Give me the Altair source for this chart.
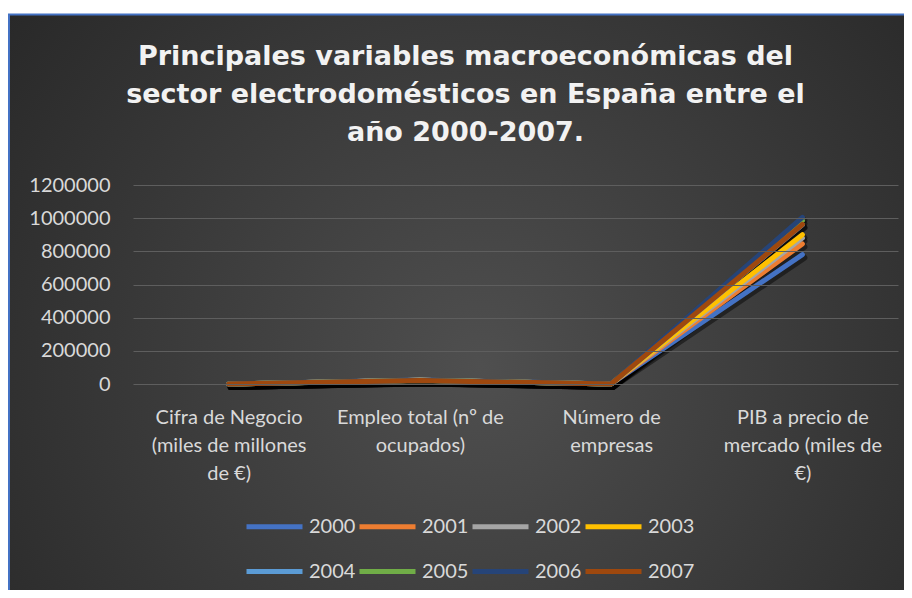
import altair as alt
import pandas as pd

years = ["2000", "2001", "2002", "2003", "2004", "2005", "2006", "2007"]
categories = [
    "Cifra de Negocio\n(miles de millones\nde €)",
    "Empleo total (nº de\nocupados)",
    "Número de\nempresas",
    "PIB a precio de\nmercado (miles de\n€)",
]
cifra = [4.2, 4.4, 4.5, 4.7, 4.9, 5.0, 5.2, 5.3]
empleo = [23500, 23000, 22800, 22500, 22000, 21500, 21000, 20500]
empresas = [720, 710, 700, 690, 680, 670, 660, 650]
pib = [780000, 845000, 880000, 900000, 960000, 985000, 1005000, 962000]
colors = ["#4472C4", "#ED7D31", "#A5A5A5", "#FFC000", "#5B9BD5", "#70AD47", "#264478", "#9E480E"]
y_ticks = [0, 200000, 400000, 600000, 800000, 1000000, 1200000]
title_lines = [
    "Principales variables macroeconómicas del",
    "sector electrodomésticos en España entre el",
    "año 2000-2007.",
]

rows = []
for i, y in enumerate(years):
    for cat, series in zip(categories, [cifra, empleo, empresas, pib]):
        rows.append({"year": y, "cat": cat, "value": series[i]})
df = pd.DataFrame(rows)

W, H = 765, 199

bg = alt.Chart(pd.DataFrame({"a": [0]})).mark_rect(
    fill=alt.Gradient(
        gradient="radial",
        stops=[alt.GradientStop(offset=0, color="#4f4f4f"),
               alt.GradientStop(offset=1, color="#232323")],
        x1=0.5, y1=0.55, r1=0, x2=0.5, y2=0.55, r2=0.72,
    ),
    stroke="#4472C4",
    strokeWidth=2,
).encode(
    x=alt.value(-124), x2=alt.value(820),
    y=alt.value(-170.4), y2=alt.value(440),
)

x_enc = alt.X(
    "cat:N", sort=categories, title=None,
    scale=alt.Scale(domain=categories, paddingOuter=0.5, paddingInner=0),
    axis=alt.Axis(
        labelAngle=0, labelExpr="split(datum.value, '\\n')",
        labelFont="Lato", labelFontSize=20, labelColor="#d9d9d9",
        labelLineHeight=28, labelPadding=23, ticks=False, domain=False,
        grid=False, labelLimit=400, zindex=1,
    ),
)
y_enc = alt.Y(
    "value:Q", title=None,
    scale=alt.Scale(domain=[0, 1200000], nice=False),
    axis=alt.Axis(
        values=y_ticks, format="d", labelFont="Lato", labelFontSize=20,
        labelColor="#d9d9d9", labelPadding=23, ticks=False, domain=False,
        grid=True, gridColor="#5e5e5e", gridWidth=1, zindex=1,
    ),
)

shadow = alt.Chart(df).mark_line(
    color="black", opacity=0.45, strokeWidth=6, xOffset=2, yOffset=3,
    strokeCap="round", strokeJoin="round",
).encode(x=x_enc, y=y_enc, detail="year:N")

lines = alt.Chart(df).mark_line(
    strokeWidth=5, strokeCap="round", strokeJoin="round",
).encode(
    x=x_enc, y=y_enc,
    color=alt.Color(
        "year:N", sort=years,
        scale=alt.Scale(domain=years, range=colors),
        legend=alt.Legend(
            title=None, orient="none", legendX=111, legendY=311,
            direction="horizontal", columns=4, symbolType="stroke",
            symbolSize=3136, symbolStrokeWidth=5, labelFont="Lato",
            labelFontSize=20, labelColor="#d9d9d9", labelOffset=4,
            columnPadding=-7, rowPadding=4,
        ),
    ),
    order=alt.Order("year:N"),
)

chart = alt.layer(bg, shadow, lines).properties(
    width=W, height=H,
    title=alt.TitleParams(
        text=title_lines, font="DejaVu Sans", fontSize=27, fontWeight="bold",
        color="#f2f2f2", anchor="middle", dx=-50, dy=158, lineHeight=38,
        offset=25, zindex=1,
    ),
    autosize=alt.AutoSizeParams(type="none"),
    padding={"left": 125, "top": 177, "right": 6, "bottom": 206},
).configure_view(stroke=None)

chart.save("out.html", embed_options={"renderer": "svg", "actions": False})
